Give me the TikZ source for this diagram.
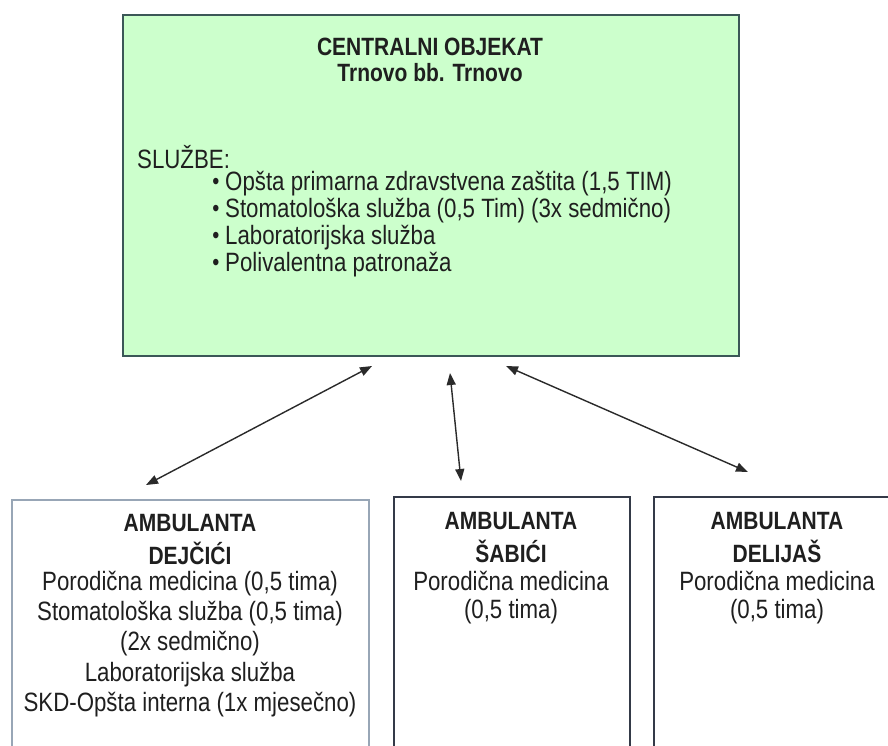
\documentclass[tikz,border=0pt]{standalone}
\usepackage{fontspec}
\setmainfont{Liberation Sans}[FakeStretch=0.84]
\usetikzlibrary{arrows.meta}
\definecolor{boxgreen}{HTML}{CCFFCC}
\definecolor{greenborder}{HTML}{3B5757}
\definecolor{darkborder}{HTML}{343A48}
\definecolor{lightborder}{HTML}{98A6B6}
\definecolor{arrowcol}{HTML}{2A2A2A}
\begin{document}
\begin{tikzpicture}[x=1pt,y=-1pt,
  txt/.style={inner sep=0pt,font=\fontsize{26.5}{30}\selectfont,text=black!88},
  btxt/.style={txt,font=\fontsize{25}{30}\selectfont\bfseries},
  link/.style={arrowcol,line width=1.4pt,{Triangle[length=12pt,width=9pt]}-{Triangle[length=12pt,width=9pt]}}
]
\useasboundingbox (0,0) rectangle (888,745);
\clip (0,0) rectangle (888,745);
\fill[white] (0,0) rectangle (888,745);
% central box
\node[draw=greenborder,line width=2pt,fill=boxgreen,anchor=north west,minimum width=616pt,minimum height=341pt,inner sep=0pt] (central) at (122,14) {};
\node[btxt] (t1) at (430,47) {CENTRALNI OBJEKAT};
\node[btxt] (t2) at (430,73) {Trnovo bb. Trnovo};
\node[txt,anchor=west] (t3) at (137,157) {SLUŽBE:};
\foreach \y/\s [count=\i] in {184/{Opšta primarna zdravstvena zaštita (1,5 TIM)},211/{Stomatološka služba (0,5 Tim) (3x sedmično)},238/{Laboratorijska služba},265/{Polivalentna patronaža}}{
  \node[txt,font=\fontsize{24}{26}\selectfont] (b\i) at (216,\y) {\textbullet};
  \node[txt,anchor=west] (l\i) at (225,\y) {\s};
}
% bottom boxes
\node[draw=lightborder,line width=2pt,fill=white,anchor=north west,minimum width=357pt,minimum height=280pt,inner sep=0pt] (amb1) at (11,499) {};
\node[draw=darkborder,line width=1.6pt,fill=white,anchor=north west,minimum width=236pt,minimum height=280pt,inner sep=0pt] (amb2) at (393,496) {};
\node[draw=darkborder,line width=1.6pt,fill=white,anchor=north west,minimum width=248pt,minimum height=280pt,inner sep=0pt] (amb3) at (653,496) {};
% box 1 text
\node[btxt] (d1) at (190,523) {AMBULANTA};
\node[btxt] (d2) at (190,553) {DEJČIĆI};
\node[txt] (d3) at (190,584) {Porodična medicina (0,5 tima)};
\node[txt] (d4) at (190,614) {Stomatološka služba (0,5 tima)};
\node[txt] (d5) at (190,644) {(2x sedmično)};
\node[txt] (d6) at (190,675) {Laboratorijska služba};
\node[txt] (d7) at (190,705) {SKD-Opšta interna (1x mjesečno)};
% box 2 text
\node[btxt] (s1) at (511,521) {AMBULANTA};
\node[btxt] (s2) at (511,551) {ŠABIĆI};
\node[txt] (s3) at (511,581) {Porodična medicina};
\node[txt] (s4) at (511,612) {(0,5 tima)};
% box 3 text
\node[btxt] (e1) at (777,521) {AMBULANTA};
\node[btxt] (e2) at (777,551) {DELIJAŠ};
\node[txt] (e3) at (777,581) {Porodična medicina};
\node[txt] (e4) at (777,612) {(0,5 tima)};
% arrows
\coordinate (a1t) at (372,366);
\coordinate (a1b) at (146,485);
\coordinate (a2t) at (450,373);
\coordinate (a2b) at (461,481);
\coordinate (a3t) at (506,366);
\coordinate (a3b) at (748,472);
\draw[link] (a1t) -- (a1b);
\draw[link] (a2t) -- (a2b);
\draw[link] (a3t) -- (a3b);
\end{tikzpicture}
\end{document}
